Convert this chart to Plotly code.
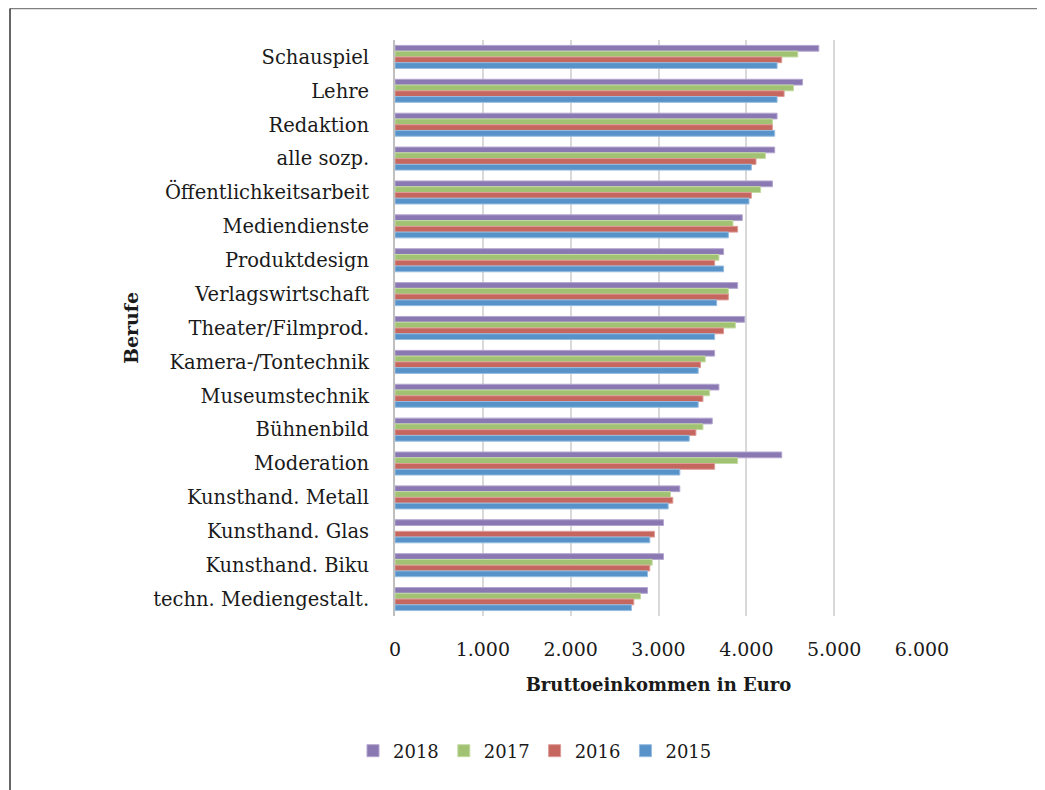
import plotly.graph_objects as go

categories = ["Schauspiel", "Lehre", "Redaktion", "alle sozp.", "Öffentlichkeitsarbeit",
              "Mediendienste", "Produktdesign", "Verlagswirtschaft", "Theater/Filmprod.",
              "Kamera-/Tontechnik", "Museumstechnik", "Bühnenbild", "Moderation",
              "Kunsthand. Metall", "Kunsthand. Glas", "Kunsthand. Biku", "techn. Mediengestalt."]

v2018 = [4825, 4640, 4350, 4323, 4297, 3954, 3741, 3901, 3981, 3639, 3688, 3612, 4403, 3243, 3057, 3057, 2875]
v2017 = [4586, 4536, 4297, 4217, 4163, 3848, 3688, 3795, 3875, 3532, 3582, 3506, 3901, 3137, None, 2928, 2795]
v2016 = [4403, 4430, 4297, 4110, 4057, 3901, 3639, 3795, 3741, 3479, 3506, 3426, 3639, 3163, 2954, 2901, 2719]
v2015 = [4350, 4350, 4323, 4057, 4030, 3795, 3741, 3662, 3639, 3452, 3452, 3350, 3243, 3110, 2901, 2875, 2692]

series = [("2018", v2018, "#8A78B2", "#B3A6CF"),
          ("2017", v2017, "#A0C272", "#C4DBA3"),
          ("2016", v2016, "#C5665F", "#DE9C97"),
          ("2015", v2015, "#5792C9", "#97BCE0")]

FONT = "DejaVu Serif"

fig = go.Figure()
for name, vals, col, edge in series:
    fig.add_trace(go.Bar(y=categories, x=vals, name=name, orientation="h",
                         marker=dict(color=col, line=dict(color=edge, width=1))))

OFF = 8  # page body margin
W, H = 1045 - OFF, 790 - OFF
L, R, T, B = 387, 123, 32, 174
pw, ph = W - L - R, H - T - B

def px_x(px):
    return (px - OFF - L) / pw

def px_y(py):
    return (H - B - (py - OFF)) / ph

fig.update_layout(
    width=W, height=H,
    margin=dict(l=L, r=R, t=T, b=B),
    paper_bgcolor="white", plot_bgcolor="white",
    barmode="group", bargap=0.32, bargroupgap=0,
    separators=",.",
    font=dict(family=FONT, size=19, color="#1a1a1a"),
    legend=dict(orientation="h", x=px_x(535), xanchor="center", y=px_y(751), yanchor="middle",
                font=dict(family=FONT, size=18), traceorder="normal", itemwidth=30),
    xaxis=dict(range=[0, 6000], dtick=1000, tickformat=",", showgrid=True,
               gridcolor="#D9D9D9", gridwidth=2, zeroline=False, showline=False,
               ticks="", ticklabelstandoff=20,
               tickfont=dict(family=FONT, size=19),
               title=dict(text="<b>Bruttoeinkommen in Euro</b>", standoff=19,
                          font=dict(family=FONT, size=18))),
    yaxis=dict(autorange="reversed", showline=True, linecolor="#BFBFBF", linewidth=2,
               ticks="", ticklabelstandoff=20, showgrid=False,
               tickfont=dict(family=FONT, size=19.5),
               title=dict(text="<b>Berufe</b>", standoff=10,
                          font=dict(family=FONT, size=19))),
    shapes=[
        dict(type="line", xref="paper", yref="paper", x0=px_x(10), x1=px_x(1045),
             y0=px_y(8.5), y1=px_y(8.5), line=dict(color="#808080", width=1.5)),
        dict(type="line", xref="paper", yref="paper", x0=px_x(10), x1=px_x(10),
             y0=px_y(8.5), y1=px_y(790), line=dict(color="#333333", width=1.5)),
    ],
)

fig.write_html("out.html")
